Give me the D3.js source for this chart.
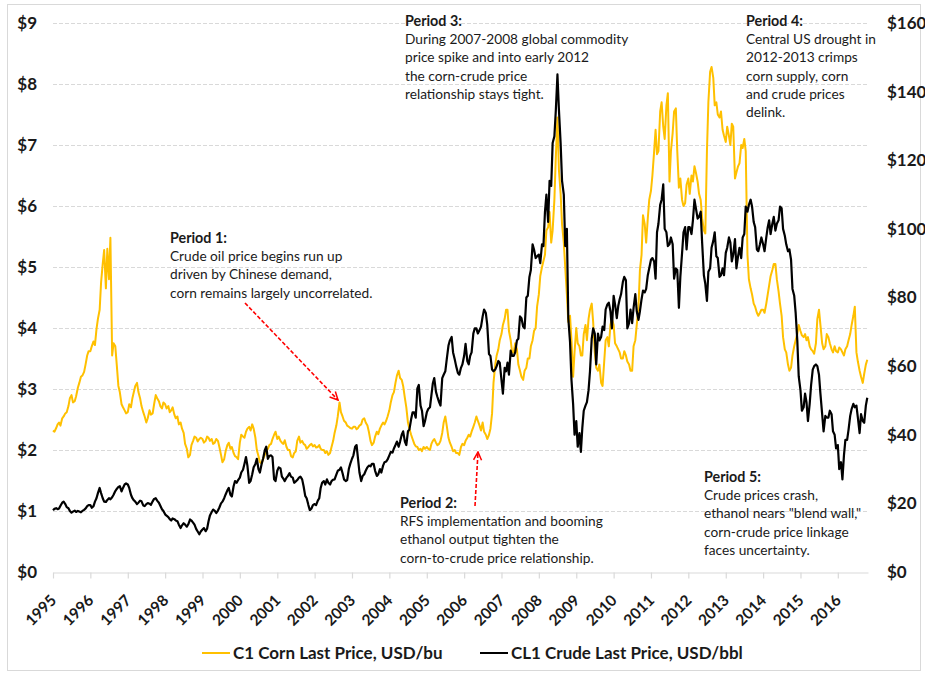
<!DOCTYPE html>
<html>
<head>
<meta charset="utf-8">
<script src="https://cdn.jsdelivr.net/npm/d3@7"></script>
<style>
  html, body { margin: 0; padding: 0; background: #fff; }
  svg { display: block; }
  text { font-family: Lato, "Open Sans", sans-serif; fill: #1a1a1a; }
</style>
</head>
<body>
<svg id="chart" width="925" height="674"></svg>
<script>
// ---------- DATA (twice a month: 1st and 15th, Jan 1995 - Oct 2016) ----------
const startYear = 1995;
const cornPrices = [
  // 1995
  2.32,2.30, 2.36,2.42, 2.45,2.40, 2.52,2.55, 2.60,2.62, 2.72,2.85, 2.90,2.78, 2.80,2.88, 3.02,3.10, 3.20,3.22, 3.28,3.40, 3.55,3.62,
  // 1996
  3.62,3.70, 3.78,3.72, 3.98,4.15, 4.30,4.75, 5.05,5.28, 4.65,5.30, 4.80,5.48, 3.55,3.75, 3.70,3.40, 3.05,2.95, 2.75,2.70, 2.65,2.60,
  // 1997
  2.62,2.75, 2.70,2.85, 2.95,3.05, 3.10,2.95, 2.85,2.72, 2.62,2.55, 2.45,2.52, 2.65,2.58, 2.60,2.75, 2.90,2.85, 2.80,2.72, 2.68,2.78,
  // 1998
  2.75,2.68, 2.72,2.62, 2.65,2.70, 2.58,2.52, 2.55,2.42, 2.45,2.35, 2.28,2.10, 2.02,1.88, 1.92,2.08, 2.15,2.22, 2.20,2.14, 2.18,2.20,
  // 1999
  2.18,2.12, 2.15,2.22, 2.20,2.15, 2.18,2.10, 2.12,2.18, 2.15,2.05, 1.92,1.80, 1.85,1.98, 2.08,2.12, 2.02,2.05, 1.95,1.90, 1.88,1.85,
  // 2000
  2.12,2.25, 2.22,2.20, 2.30,2.35, 2.38,2.32, 2.42,2.35, 2.20,2.00, 1.90,1.80, 1.78,1.85, 1.92,1.98, 2.02,2.08, 2.10,2.18, 2.25,2.30,
  // 2001
  2.18,2.22, 2.15,2.12, 2.10,2.16, 2.05,2.00, 2.00,1.90, 1.88,1.95, 1.98,2.15, 2.22,2.12, 2.15,2.10, 2.08,2.02, 2.05,2.08, 2.10,2.06,
  // 2002
  2.08,2.04, 2.05,2.08, 2.02,2.00, 2.00,1.95, 1.98,1.92, 1.95,2.05, 2.15,2.28, 2.40,2.55, 2.78,2.62, 2.55,2.48, 2.45,2.40, 2.38,2.36,
  // 2003
  2.35,2.38, 2.38,2.34, 2.36,2.40, 2.42,2.50, 2.52,2.45, 2.40,2.30, 2.15,2.08, 2.12,2.22, 2.30,2.26, 2.35,2.40, 2.45,2.42, 2.48,2.55,
  // 2004
  2.65,2.78, 2.90,2.95, 3.10,3.22, 3.30,3.18, 3.15,3.05, 2.85,2.70, 2.45,2.35, 2.25,2.18, 2.10,2.06, 2.05,2.00, 2.02,1.98, 2.05,2.02,
  // 2005
  2.05,2.02, 2.00,2.10, 2.15,2.18, 2.12,2.08, 2.10,2.15, 2.28,2.45, 2.55,2.40, 2.20,2.12, 2.05,1.98, 2.00,1.95, 1.95,1.92, 2.05,2.10,
  // 2006
  2.08,2.15, 2.20,2.25, 2.22,2.30, 2.38,2.45, 2.55,2.48, 2.40,2.32, 2.45,2.30, 2.25,2.18, 2.25,2.35, 2.60,3.10, 3.40,3.55, 3.65,3.80,
  // 2007
  3.90,4.05, 4.15,4.30, 4.30,3.95, 3.80,3.60, 3.60,3.75, 3.65,3.40, 3.30,3.20, 3.15,3.30, 3.35,3.50, 3.50,3.70, 3.80,3.95, 4.00,4.35,
  // 2008
  4.55,4.85, 5.00,5.10, 5.20,5.60, 5.65,5.90, 5.40,5.60, 6.10,6.80, 7.45,6.60, 6.20,5.70, 5.40,5.00, 4.55,4.10, 4.20,3.80, 3.20,3.60,
  // 2009
  4.00,3.75, 3.70,3.55, 3.55,3.90, 4.05,3.80, 4.15,4.30, 4.40,4.10, 3.60,3.35, 3.30,3.40, 3.10,3.05, 3.45,3.80, 3.85,3.70, 4.05,4.15,
  // 2010
  4.05,3.75, 3.70,3.65, 3.60,3.50, 3.50,3.62, 3.55,3.45, 3.40,3.30, 3.30,3.70, 3.80,4.05, 4.35,4.95, 5.20,5.85, 5.70,5.40, 5.80,6.10,
  // 2011
  6.25,6.50, 6.90,7.25, 6.85,6.90, 7.55,7.70, 7.30,7.10, 7.65,7.85, 6.40,6.90, 7.20,7.55, 7.60,6.90, 6.30,6.45, 6.10,6.00, 6.05,6.35,
  // 2012
  6.45,6.20, 6.50,6.40, 6.65,6.55, 6.40,6.20, 6.10,5.80, 5.60,5.55, 6.90,7.70, 8.20,8.28, 8.10,7.65, 7.70,7.50, 7.45,7.55, 7.25,7.15,
  // 2013
  7.05,7.30, 7.15,7.00, 7.35,7.30, 6.45,6.55, 6.65,6.70, 7.00,6.95, 7.10,6.90, 5.20,4.80, 4.65,4.55, 4.40,4.35, 4.25,4.20, 4.25,4.30,
  // 2014
  4.30,4.25, 4.40,4.55, 4.70,4.85, 4.95,5.05, 5.05,4.80, 4.60,4.40, 4.20,3.85, 3.65,3.60, 3.40,3.30, 3.35,3.55, 3.70,3.80, 3.90,4.05,
  // 2015
  3.95,3.88, 3.85,3.90, 3.80,3.85, 3.70,3.65, 3.62,3.58, 3.75,4.15, 4.30,4.05, 3.75,3.65, 3.70,3.90, 3.85,3.75, 3.65,3.60, 3.70,3.62,
  // 2016 (Jan - Oct)
  3.60,3.68, 3.65,3.60, 3.55,3.65, 3.70,3.80, 3.90,4.05, 4.20,4.35, 3.60,3.45, 3.30,3.20, 3.10,3.25, 3.40,3.48
];
const crudePrices = [
  // 1995
  18.0,18.4, 18.6,18.3, 18.5,19.3, 20.2,20.5, 19.8,18.9, 18.6,17.8, 17.3,17.6, 17.9,17.5, 17.8,17.6, 17.4,17.8, 18.1,18.5, 19.2,19.5,
  // 1996
  19.5,18.7, 19.2,20.5, 21.5,23.0, 24.5,23.0, 21.5,20.5, 20.4,21.0, 21.5,21.2, 21.8,22.5, 23.6,24.2, 24.8,25.0, 23.5,24.5, 25.5,25.8,
  // 1997
  25.5,24.5, 22.5,21.5, 20.9,20.5, 19.8,20.2, 20.8,20.6, 19.4,19.2, 19.8,20.1, 19.9,19.6, 20.6,21.3, 21.5,20.8, 20.2,19.3, 18.3,17.8,
  // 1998
  16.8,16.4, 16.0,15.4, 15.0,15.6, 15.4,15.0, 14.8,13.8, 12.8,13.6, 14.2,13.8, 13.2,13.9, 15.3,15.0, 14.4,13.8, 12.5,11.8, 11.0,11.8,
  // 1999
  12.4,12.8, 11.9,12.6, 14.8,16.5, 17.5,18.2, 17.8,17.2, 17.9,18.8, 20.0,20.5, 21.5,22.6, 23.8,24.5, 22.5,22.0, 25.0,26.5, 26.0,26.8,
  // 2000
  27.5,29.0, 29.8,31.5, 33.5,31.0, 26.0,26.5, 28.5,30.5, 31.5,33.0, 30.0,29.0, 31.5,33.0, 35.5,36.5, 33.0,33.8, 34.0,33.5, 27.0,26.5,
  // 2001
  29.5,30.5, 30.2,27.8, 27.2,26.5, 27.5,28.0, 28.8,27.8, 27.5,26.0, 26.4,26.8, 27.5,27.8, 27.0,25.0, 22.2,21.5, 19.5,18.0, 18.5,19.5,
  // 2002
  19.8,19.5, 20.8,21.5, 24.5,26.0, 26.5,25.5, 27.0,26.0, 25.5,26.5, 26.9,27.0, 28.4,29.5, 29.8,30.5, 28.8,27.0, 26.5,26.8, 30.0,31.5,
  // 2003
  33.0,34.0, 36.5,37.0, 33.0,29.0, 26.5,28.0, 28.5,29.5, 30.5,31.0, 30.8,31.5, 31.5,29.5, 28.0,28.5, 30.0,29.0, 31.0,32.0, 32.2,32.8,
  // 2004
  34.0,35.0, 34.8,36.0, 37.0,38.0, 36.5,38.0, 40.0,41.0, 38.0,37.0, 41.0,41.5, 44.5,46.5, 46.5,45.0, 53.5,54.5, 48.5,47.0, 42.5,44.0,
  // 2005
  46.5,47.5, 48.0,51.5, 55.0,56.5, 52.5,51.0, 49.5,48.5, 56.5,57.5, 58.5,62.0, 66.0,67.5, 68.5,64.0, 62.0,60.0, 58.0,57.5, 59.5,60.5,
  // 2006
  63.0,66.5, 61.5,60.5, 63.0,64.0, 69.5,71.0, 71.0,69.5, 70.5,71.5, 74.5,76.5, 75.5,72.0, 63.5,63.0, 59.0,58.5, 59.0,60.0, 61.5,61.0,
  // 2007
  56.0,52.0, 59.5,58.5, 61.0,57.5, 64.5,63.0, 63.0,64.0, 67.5,68.0, 74.5,74.0, 71.5,71.0, 80.0,80.5, 86.0,88.0, 95.5,94.0, 91.5,92.0,
  // 2008
  92.5,90.0, 95.5,95.0, 105.0,110.0, 102.0,114.0, 112.5,125.0, 127.0,134.5, 145.0,135.0, 125.0,114.0, 110.0,95.0, 100.0,74.0, 67.0,56.0, 49.0,40.0,
  // 2009
  44.0,36.5, 40.5,35.0, 42.0,47.0, 48.5,49.5, 53.0,58.5, 68.0,71.0, 69.5,60.5, 69.5,67.5, 68.5,71.5, 70.5,76.5, 78.0,78.5, 76.0,71.0,
  // 2010
  80.5,78.0, 74.0,77.5, 79.5,81.0, 84.5,86.0, 85.0,71.0, 72.5,76.5, 72.5,77.0, 81.0,76.0, 73.5,76.0, 79.5,82.0, 81.5,82.5, 86.5,88.5,
  // 2011
  91.0,91.5, 90.5,85.5, 99.0,101.5, 107.0,108.5, 113.0,100.0, 99.0,95.0, 95.5,97.5, 95.5,85.5, 88.5,88.0, 77.0,86.0, 93.0,99.0, 100.5,94.0,
  // 2012
  100.5,100.5, 98.5,102.5, 108.5,106.0, 103.0,103.5, 105.0,96.0, 86.5,84.0, 79.0,87.5, 88.5,94.5, 96.5,99.0, 92.0,91.5, 86.0,86.5, 88.5,86.5,
  // 2013
  93.0,94.5, 97.5,96.0, 90.5,92.5, 97.0,88.5, 92.0,94.5, 91.5,97.5, 98.5,106.5, 105.0,107.0, 108.5,106.5, 102.0,100.5, 94.0,93.5, 95.5,97.5,
  // 2014
  95.5,93.5, 97.5,100.5, 102.5,98.5, 101.5,103.5, 99.5,101.5, 102.5,106.5, 106.0,100.0, 98.0,95.5, 93.5,94.0, 91.0,82.5, 80.5,75.5, 67.5,57.0,
  // 2015
  53.0,47.0, 48.0,52.0, 49.5,44.0, 49.0,54.5, 59.0,60.0, 60.5,60.0, 57.5,52.0, 46.0,41.0, 45.5,45.0, 45.0,47.0, 46.0,41.0, 40.0,36.0,
  // 2016 (Jan - Oct)
  37.0,30.0, 32.0,27.0, 34.0,38.5, 38.5,41.5, 45.5,47.5, 49.0,48.0, 48.5,45.0, 40.5,46.0, 44.0,43.5, 48.5,50.8
];
const yearLabels = ["1995","1996","1997","1998","1999","2000","2001","2002","2003","2004","2005",
                    "2006","2007","2008","2009","2010","2011","2012","2013","2014","2015","2016"];
const leftTicks = [0,1,2,3,4,5,6,7,8,9];
const rightTicks = [0,20,40,60,80,100,120,140,160];
const seriesNames = ["C1 Corn Last Price, USD/bu", "CL1 Crude Last Price, USD/bbl"];
const annotations = [
  { title: "Period 1:", lines: ["Crude oil price begins run up", "driven by Chinese demand,", "corn remains largely uncorrelated."] },
  { title: "Period 2:", lines: ["RFS implementation and booming", "ethanol output tighten the", "corn-to-crude price relationship."] },
  { title: "Period 3:", lines: ["During 2007-2008 global commodity", "price spike and into early 2012", "the corn-crude price", "relationship stays tight."] },
  { title: "Period 4:", lines: ["Central US drought in", "2012-2013 crimps", "corn supply, corn", "and crude prices", "delink."] },
  { title: "Period 5:", lines: ["Crude prices crash,", "ethanol nears \"blend wall,\"", "corn-crude price linkage", "faces uncertainty."] }
];

// ---------- LAYOUT / STYLE ----------
const CORN = "#FFC000", CRUDE = "#000000", GRID = "#D9D9D9";
const svg = d3.select("#chart");
const plotLeft = 53, plotRight = 868, plotTop = 23, plotBottom = 572;

const halfMonthDate = i => new Date(startYear, Math.floor(i / 2), i % 2 ? 15 : 1);
const cornData = cornPrices.map((v, i) => ({ d: halfMonthDate(i), v }));
const crudeData = crudePrices.map((v, i) => ({ d: halfMonthDate(i), v }));

const x = d3.scaleTime().domain([new Date(1995, 0, 1), new Date(2016, 9, 22)]).range([plotLeft, plotRight]);
const yL = d3.scaleLinear().domain([0, 9]).range([plotBottom, plotTop]);
const yR = d3.scaleLinear().domain([0, 160]).range([plotBottom, plotTop]);

// outer border
svg.append("rect").attr("x", 7.5).attr("y", 4.5).attr("width", 913).attr("height", 666)
  .attr("fill", "none").attr("stroke", GRID).attr("stroke-width", 1);

// gridlines
svg.append("g").selectAll("line").data(leftTicks.filter(d => d > 0)).join("line")
  .attr("x1", plotLeft).attr("x2", plotRight)
  .attr("y1", d => Math.round(yL(d)) + 0.5).attr("y2", d => Math.round(yL(d)) + 0.5)
  .attr("stroke", GRID).attr("stroke-width", 1).attr("stroke-dasharray", "4,2");

// x axis
const yearDates = yearLabels.map(y => new Date(+y, 0, 1));
const xAxis = d3.axisBottom(x).tickValues(yearDates).tickSize(6).tickSizeOuter(0).tickFormat((d, i) => yearLabels[i]);
const gx = svg.append("g").attr("transform", `translate(0,${plotBottom + 0.5})`).call(xAxis);
gx.select(".domain").attr("stroke", GRID).attr("stroke-width", 1.2);
gx.selectAll(".tick line").attr("stroke", GRID).attr("stroke-width", 1.2);
gx.selectAll(".tick text")
  .attr("font-family", "Lato, sans-serif").attr("font-size", 15.5).attr("font-weight", "bold")
  .attr("fill", "#111").attr("text-anchor", "end")
  .attr("transform", "translate(0,25) rotate(-45)")
  .attr("y", 0).attr("dy", "0.35em").attr("x", 0);

// left axis
const gyl = svg.append("g").attr("transform", `translate(${plotLeft},0)`)
  .call(d3.axisLeft(yL).tickValues(leftTicks).tickSize(0).tickFormat(d => "$" + d));
gyl.select(".domain").remove();
gyl.selectAll(".tick text").attr("x", -16).attr("font-size", 17).attr("font-weight", "bold")
  .attr("fill", "#111").attr("font-family", "Lato, sans-serif");

// right axis
const gyr = svg.append("g").attr("transform", `translate(${plotRight},0)`)
  .call(d3.axisRight(yR).tickValues(rightTicks).tickSize(0).tickFormat(d => "$" + d));
gyr.select(".domain").remove();
gyr.selectAll(".tick text").attr("x", 19).attr("font-size", 17).attr("font-weight", "bold")
  .attr("fill", "#111").attr("font-family", "Lato, sans-serif");

// lines
const cornLine = d3.line().x(d => x(d.d)).y(d => yL(d.v));
const crudeLine = d3.line().x(d => x(d.d)).y(d => yR(d.v));
svg.append("path").datum(cornData).attr("d", cornLine)
  .attr("fill", "none").attr("stroke", CORN).attr("stroke-width", 2).attr("stroke-linejoin", "round");
svg.append("path").datum(crudeData).attr("d", crudeLine)
  .attr("fill", "none").attr("stroke", CRUDE).attr("stroke-width", 2.2).attr("stroke-linejoin", "round");

// annotations
const annPos = [
  { x: 170, y: 238 }, { x: 400, y: 503 }, { x: 405, y: 21 }, { x: 746, y: 21 }, { x: 704, y: 477 }
];
const lineH = 18.3;
annotations.forEach((a, i) => {
  const g = svg.append("g").attr("transform", `translate(${annPos[i].x},${annPos[i].y})`);
  g.append("text").attr("x", 0).attr("y", 0).attr("dy", "0.35em")
    .attr("font-size", 14.3).attr("font-weight", "bold").attr("fill", "#1a1a1a").text(a.title);
  a.lines.forEach((l, j) => {
    g.append("text").attr("x", 0).attr("y", (j + 1) * lineH).attr("dy", "0.35em")
      .attr("font-size", 13.7).attr("fill", "#1a1a1a").text(l);
  });
});

// arrows
const defs = svg.append("defs");
defs.append("marker").attr("id", "arrow").attr("viewBox", "0 0 10 10").attr("refX", 9).attr("refY", 5)
  .attr("markerWidth", 10).attr("markerHeight", 10).attr("markerUnits", "userSpaceOnUse").attr("orient", "auto")
  .append("path").attr("d", "M1,1 L9,5 L1,9").attr("fill", "none").attr("stroke", "#FF0000").attr("stroke-width", 1.5);
const arrows = [
  { x1: 245, y1: 303, x2: 338, y2: 400 },
  { x1: 475, y1: 506, x2: 478, y2: 452 }
];
svg.append("g").selectAll("line").data(arrows).join("line")
  .attr("x1", d => d.x1).attr("y1", d => d.y1).attr("x2", d => d.x2).attr("y2", d => d.y2)
  .attr("stroke", "#FF0000").attr("stroke-width", 1.6).attr("stroke-dasharray", "4,2")
  .attr("marker-end", "url(#arrow)");

// legend
const legend = [
  { name: seriesNames[0], color: CORN, x: 202 },
  { name: seriesNames[1], color: CRUDE, x: 480 }
];
const lg = svg.append("g");
legend.forEach(l => {
  lg.append("line").attr("x1", l.x).attr("x2", l.x + 28).attr("y1", 653).attr("y2", 653)
    .attr("stroke", l.color).attr("stroke-width", 2);
  lg.append("text").attr("x", l.x + 31).attr("y", 653).attr("dy", "0.35em")
    .attr("font-size", 17).attr("font-weight", "bold").attr("fill", "#111").text(l.name);
});
</script>
</body>
</html>
